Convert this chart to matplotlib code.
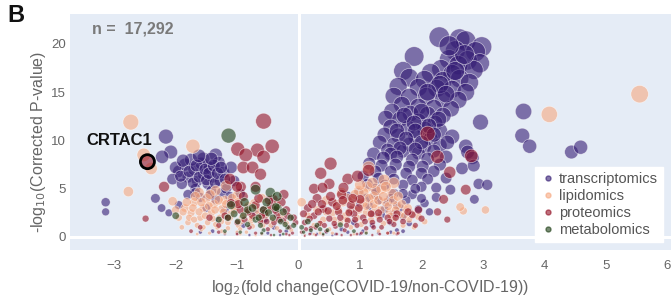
import matplotlib
matplotlib.use('Agg')
import numpy as np
import matplotlib.pyplot as plt
from matplotlib.lines import Line2D

# points: (log2 fold change, -log10 corrected p)
transcriptomics = [
    (2.29, 20.7), (2.62, 20.5), (2.72, 20.3), (2.98, 19.7), (2.88, 19.2), (2.55, 19.3), (1.88, 18.7),
    (2.45, 18.4), (2.75, 18.3), (2.95, 18.0), (2.60, 17.8), (2.32, 17.4), (2.85, 17.3), (1.70, 17.2),
    (2.15, 17.0), (2.50, 16.9), (1.80, 16.5), (2.05, 16.3), (2.35, 16.2), (2.62, 16.4), (2.78, 16.0),
    (1.62, 15.6), (1.95, 15.5), (2.25, 15.4), (2.50, 15.3), (2.72, 15.0), (1.55, 14.6), (1.80, 14.5),
    (2.08, 14.6), (2.35, 14.3), (2.60, 14.2), (1.68, 13.7), (1.95, 13.5), (2.20, 13.4), (2.48, 13.3),
    (1.52, 13.0), (1.82, 12.8), (2.10, 12.7), (2.35, 12.6), (1.42, 12.3), (1.65, 12.2), (1.95, 12.0),
    (2.22, 11.8), (1.50, 11.4), (1.78, 11.3), (2.05, 11.2), (2.30, 11.0), (2.50, 10.4), (2.96, 11.9),
    (1.40, 10.6), (1.62, 10.5), (1.90, 10.4), (2.15, 10.2), (1.32, 9.8), (1.55, 9.6), (1.80, 9.6),
    (2.05, 9.4), (2.30, 9.5), (2.72, 9.4), (1.45, 9.0), (1.70, 8.9), (1.95, 8.7), (2.20, 8.9),
    (1.72, 12.6), (2.00, 13.0), (2.28, 12.2), (1.88, 11.8), (2.12, 11.5), (1.60, 11.0), (1.90, 11.0),
    (2.20, 10.6), (1.75, 10.2), (2.00, 9.8), (1.65, 9.2), (1.90, 9.1), (2.42, 9.8), (1.50, 8.6),
    (2.30, 15.8), (2.10, 15.0), (2.40, 14.8), (2.55, 17.2), (2.70, 18.9), (2.45, 19.8),
    (1.22, 8.6), (1.38, 8.2), (1.60, 8.3), (1.85, 8.0), (2.10, 8.1), (2.40, 8.3), (2.75, 8.8),
    (2.83, 8.2), (1.15, 7.6), (1.35, 7.4), (1.58, 7.5), (1.80, 7.3), (2.02, 7.3), (2.30, 7.5),
    (2.66, 7.1), (2.85, 7.4), (1.25, 6.8), (1.50, 6.8), (1.75, 6.6), (2.00, 6.6), (2.20, 6.8),
    (1.05, 6.3), (1.30, 6.1), (1.55, 6.0), (1.85, 5.9), (2.10, 6.0), (2.40, 6.1), (1.12, 5.5),
    (1.40, 5.4), (1.70, 5.4), (2.00, 5.2), (2.24, 5.1), (2.47, 4.9), (2.93, 5.5), (3.07, 5.4),
    (0.98, 4.6), (1.25, 4.4), (1.55, 4.5), (1.85, 4.4), (2.24, 4.1), (2.86, 3.9), (1.45, 3.6),
    (1.75, 3.8), (2.05, 3.5), (1.15, 3.2), (1.65, 3.0), (1.95, 2.9), (2.13, 2.6),
    (1.10, 4.0), (1.30, 3.8), (1.50, 4.0), (1.70, 4.5), (1.90, 5.0), (1.60, 3.3), (1.40, 2.9),
    (1.20, 2.4), (1.80, 2.6), (2.00, 4.0), (1.00, 3.5), (0.85, 2.8), (1.55, 2.4), (0.80, 4.2),
    (1.25, 5.0), (1.35, 2.3), (1.70, 2.1), (1.50, 1.5), (1.20, 1.2), (0.90, 1.5), (1.80, 1.4),
    (0.70, 0.8), (1.05, 0.6), (1.60, 0.7),
    (3.66, 13.0), (3.64, 10.5), (3.76, 9.4), (4.44, 8.8), (4.59, 9.3),
    (-2.16, 10.4), (-2.08, 8.8), (-2.22, 8.3), (-1.95, 6.8), (-1.85, 7.5), (-1.80, 6.2), (-1.70, 7.0),
    (-1.65, 5.8), (-1.58, 7.6), (-1.55, 6.5), (-1.48, 5.5), (-1.45, 7.2), (-1.40, 6.2), (-1.35, 8.5),
    (-1.30, 7.7), (-1.28, 5.8), (-1.22, 6.7), (-1.15, 5.3), (-1.10, 7.2), (-1.55, 8.1), (-1.75, 8.0),
    (-2.05, 6.0), (-1.90, 5.5), (-1.68, 5.0), (-1.42, 4.8), (-1.25, 4.6), (-1.05, 5.8), (-0.95, 4.5),
    (-2.00, 7.2), (-1.92, 6.3), (-1.88, 7.9), (-1.78, 6.8), (-1.72, 5.6), (-1.66, 7.4), (-1.62, 6.2),
    (-1.52, 7.0), (-1.50, 5.9), (-1.46, 6.6), (-1.38, 7.4), (-1.36, 5.6), (-1.32, 6.6), (-1.26, 7.2),
    (-1.20, 6.0), (-1.18, 5.0), (-1.42, 8.1), (-1.62, 8.4), (-1.45, 4.3), (-1.12, 4.2), (-1.68, 4.6),
    (-1.80, 4.4), (-1.60, 4.1), (-1.35, 3.9), (-1.05, 3.4), (-0.85, 3.0), (-0.70, 2.4), (-0.55, 1.8),
    (-1.20, 2.8), (-1.50, 3.0), (-0.40, 1.0), (-0.20, 0.6), (-0.90, 1.2), (-1.30, 1.8),
    (-3.14, 3.6), (-3.14, 2.6), (-2.33, 4.0), (-2.23, 3.0), (-2.11, 2.5), (-1.95, 3.3),
    (-1.00, 0.4), (-0.60, 0.3), (-0.30, 0.2), (0.30, 0.3), (0.55, 0.2), (0.20, 0.4), (0.45, 0.5),
    (-1.20, 0.3), (-0.80, 0.2), (-0.50, 0.4), (0.10, 0.2), (0.60, 0.3), (0.80, 0.5), (1.00, 0.3),
    (1.30, 0.4), (1.50, 0.5), (-1.40, 0.6), (-1.60, 0.5), (1.70, 0.6),
]

lipidomics = [
    (-2.73, 11.9), (-2.77, 4.7), (-2.52, 8.5), (-2.40, 7.1), (-1.72, 9.4), (-2.05, 3.7),
    (4.08, 12.7), (5.55, 14.8), (3.04, 2.8), (2.68, 2.7), (2.63, 3.1),
    (-1.95, 2.0), (-1.85, 3.0), (-1.80, 1.5), (-1.75, 2.5), (-1.70, 3.6), (-1.65, 1.2), (-1.60, 2.0),
    (-1.55, 3.0), (-1.50, 4.0), (-1.48, 1.5), (-1.42, 2.5), (-1.38, 3.4), (-1.32, 1.0), (-1.28, 2.0),
    (-1.25, 2.9), (-1.20, 3.8), (-1.15, 1.5), (-1.10, 2.4), (-1.05, 3.2), (-1.00, 4.3), (-0.98, 1.2),
    (-0.92, 2.0), (-0.85, 2.8), (-0.78, 1.6), (-0.72, 3.5), (-0.65, 2.2), (-0.58, 1.2), (-0.50, 2.8),
    (-0.42, 1.8), (-0.35, 0.9), (-0.28, 2.3), (-0.20, 1.4), (-0.12, 0.7), (-1.62, 4.6), (-1.90, 1.0),
    (-1.58, 0.8), (-1.25, 0.6), (-0.85, 0.5), (-2.00, 2.8), (-1.35, 4.8), (-1.18, 5.3), (-0.60, 4.0),
    (-0.35, 3.3),
    (-1.88, 2.6), (-1.82, 3.6), (-1.78, 2.0), (-1.72, 3.0), (-1.68, 4.2), (-1.62, 2.6), (-1.58, 3.6),
    (-1.52, 2.2), (-1.46, 3.2), (-1.44, 4.4), (-1.40, 1.9), (-1.36, 2.8), (-1.30, 3.8), (-1.26, 1.6),
    (-1.22, 2.6), (-1.18, 3.4), (-1.12, 2.0), (-1.08, 4.0), (-1.04, 2.8), (-0.98, 3.6), (-0.94, 1.6),
    (-0.88, 2.4), (-0.82, 3.2), (-0.76, 2.0), (-0.68, 2.8), (-0.62, 1.8), (-0.54, 2.2), (-1.70, 1.8),
    (-1.55, 1.0), (-1.35, 1.3), (-1.15, 0.9), (-0.95, 0.8), (-0.75, 1.1), (-0.45, 1.2),
    (0.05, 3.6), (0.15, 2.2), (0.25, 1.2), (0.30, 2.8), (0.40, 1.8), (0.50, 0.8), (0.55, 2.5),
    (0.62, 3.4), (0.68, 1.5), (0.75, 2.2), (0.80, 4.0), (0.85, 1.0), (0.88, 3.0), (0.95, 2.0),
    (0.98, 4.8), (1.02, 1.3), (1.05, 3.5), (1.10, 2.5), (1.12, 5.2), (1.18, 1.8), (1.22, 4.2),
    (1.25, 3.0), (1.30, 2.2), (1.35, 5.0), (1.38, 1.4), (1.42, 3.6), (1.48, 2.6), (1.52, 4.5),
    (1.55, 1.8), (1.60, 3.2), (1.65, 2.3), (1.70, 1.2), (1.75, 2.8), (1.80, 1.8), (1.88, 1.0),
    (1.95, 2.1), (2.05, 1.6), (0.45, 3.8), (0.70, 4.6), (1.14, 7.2), (1.39, 5.9), (1.55, 5.6),
    (0.65, 2.8), (0.72, 3.6), (0.78, 1.8), (0.82, 2.6), (0.88, 3.8), (0.92, 4.4), (0.98, 2.8),
    (1.02, 3.8), (1.06, 4.6), (1.10, 3.2), (1.15, 4.0), (1.18, 2.4), (1.22, 3.4), (1.26, 4.8),
    (1.30, 3.8), (1.34, 2.8), (1.38, 4.2), (1.42, 5.2), (1.46, 3.2), (1.50, 2.2), (1.54, 3.8),
    (1.58, 2.8), (1.62, 4.2), (1.68, 3.4), (1.72, 2.2), (1.78, 3.0), (1.84, 2.4), (0.58, 1.8),
    (0.45, 2.6), (0.35, 1.4), (1.20, 5.6), (1.00, 5.4),
    (-1.45, 0.4), (-0.95, 0.3), (0.35, 0.4), (0.90, 0.3), (1.45, 0.4), (-0.70, 0.2), (0.10, 0.2),
    (-1.20, 0.4), (-0.60, 0.3), (0.25, 0.3), (0.55, 0.4), (1.10, 0.5), (1.30, 0.6), (1.55, 0.4),
    (-1.65, 0.3), (-1.00, 0.5),
]

proteomics = [
    (-0.57, 12.0), (-0.43, 9.4), (-0.99, 9.1), (-0.67, 9.0), (-0.57, 8.3), (-0.86, 8.5),
    (-2.19, 5.2), (-2.49, 1.9), (-2.46, 7.8),
    (-0.90, 7.2), (-0.75, 7.2), (-0.62, 6.5), (-0.70, 5.2), (-0.94, 5.2), (-0.24, 4.4), (-0.41, 3.9),
    (-0.57, 2.8), (-1.12, 6.0), (-1.00, 5.2),
    (-1.20, 2.2), (-1.10, 3.5), (-1.00, 1.5), (-0.95, 2.8), (-0.90, 4.2), (-0.80, 1.0), (-0.75, 2.2),
    (-0.70, 3.3), (-0.62, 1.6), (-0.55, 2.5), (-0.50, 0.8), (-0.45, 3.2), (-0.40, 1.5), (-0.35, 2.3),
    (-0.30, 0.6), (-0.25, 1.7), (-0.20, 2.8), (-0.15, 1.0), (-0.10, 0.4), (-0.05, 1.5), (-1.30, 1.2),
    (-1.45, 2.0), (-1.60, 1.0), (-1.75, 0.6),
    (-1.15, 2.0), (-0.98, 3.4), (-0.88, 1.8), (-0.82, 2.6), (-0.65, 4.0),
    (-0.60, 2.2), (-0.52, 1.6), (-0.48, 3.8), (-0.38, 2.8), (-0.32, 1.8), (-0.28, 3.6), (-0.18, 2.2),
    (-0.08, 2.0),
    (0.05, 0.5), (0.10, 1.5), (0.15, 3.0), (0.20, 0.9), (0.25, 2.2), (0.30, 4.0), (0.35, 1.4),
    (0.40, 2.9), (0.45, 0.6), (0.50, 1.9), (0.55, 3.6), (0.60, 1.1), (0.65, 2.6), (0.70, 4.4),
    (0.75, 0.7), (0.80, 1.7), (0.85, 3.3), (0.90, 2.4), (0.95, 1.2), (1.00, 3.9), (1.05, 2.0),
    (1.10, 0.9), (1.20, 1.5), (1.30, 2.5), (1.35, 1.0),
    (1.45, 2.0), (1.55, 1.3), (1.60, 2.4), (1.70, 1.6), (1.85, 2.3),
    (1.90, 1.2), (2.00, 1.9), (2.26, 2.6), (2.42, 1.8),
    (0.08, 2.4), (0.12, 0.8), (0.18, 1.9), (0.22, 3.4), (0.28, 1.0), (0.32, 2.6), (0.38, 3.4),
    (0.42, 1.2), (0.48, 2.7), (0.52, 4.2), (0.58, 1.4), (0.62, 3.2), (0.68, 2.0), (0.72, 3.8),
    (0.78, 1.2), (0.82, 2.5), (0.88, 4.0), (0.92, 1.8), (0.98, 3.0), (1.08, 1.6),
    (1.18, 2.4), (1.22, 1.0), (1.32, 1.8),
    (1.48, 1.6), (1.58, 2.0), (1.78, 2.6), (1.95, 2.8),
    (0.50, 5.5), (0.25, 5.0), (0.80, 6.0),
    (0.36, 6.6), (0.39, 5.1), (0.52, 7.6), (0.96, 6.3), (0.73, 5.1), (2.10, 10.7), (2.26, 8.3),
    (2.81, 8.4), (2.72, 4.9), (2.46, 6.7), (2.36, 3.9), (1.14, 6.9),
    (-1.00, 0.3), (-0.70, 0.4), (-0.45, 0.2), (-0.20, 0.3), (0.10, 0.1), (0.40, 0.2), (0.70, 0.2),
    (0.95, 0.3), (1.20, 0.2), (1.45, 0.4), (1.60, 0.3), (-1.30, 0.5), (0.18, 0.3), (0.62, 0.3),
    (1.02, 0.4), (1.32, 0.3), (-0.15, 0.2), (0.85, 0.2), (1.62, 0.4), (0.28, 0.2),
]

metabolomics = [
    (-1.14, 10.5), (-2.00, 2.2), (-0.70, 4.9), (-0.46, 4.6), (-0.83, 2.8), (-0.57, 2.8), (-0.34, 3.0),
    (-1.10, 3.3), (-1.30, 1.8), (-0.99, 1.6), (-0.13, 2.0), (-0.37, 3.1), (-0.49, 2.5), (-0.70, 1.8),
    (-0.83, 1.3), (-0.29, 1.6), (-0.18, 1.0), (-0.57, 0.7), (0.20, 0.7), (0.08, 0.5), (0.47, 0.7),
    (0.68, 1.25), (0.30, 1.2), (0.90, 0.6), (-0.95, 0.5), (-0.60, 0.4), (-0.25, 0.3), (0.40, 0.3),
    (-1.20, 0.6), (-0.40, 0.2), (1.10, 0.4),
    (-1.05, 2.4), (-0.90, 2.2), (-0.75, 3.0), (-0.65, 2.0), (-0.52, 3.6), (-0.42, 2.0), (-0.25, 2.6),
    (-0.22, 1.3), (-0.08, 1.2), (0.05, 1.0), (0.15, 1.6), (0.35, 0.8), (-0.62, 1.2), (-0.88, 3.6),
    (-0.35, 4.2), (-1.15, 2.0),
]

series = [('transcriptomics', transcriptomics, '#341C74'),
          ('lipidomics', lipidomics, '#F7A880'),
          ('proteomics', proteomics, '#941226'),
          ('metabolomics', metabolomics, '#1E3F16')]

highlight_name = 'CRTAC1'
highlight_xy = (-2.46, 7.8)


def marker_area(y):
    # marker diameter grows with significance
    d_px = 1.0 + 4.3 * np.sqrt(np.clip(np.asarray(y, dtype=float), 0.02, None))
    return (0.72 * d_px) ** 2


plt.rcParams['font.family'] = ['Liberation Sans', 'DejaVu Sans']
narrow = ['Liberation Sans Narrow', 'Liberation Sans', 'DejaVu Sans']

fig = plt.figure(figsize=(6.71, 2.97), dpi=100)
ax = fig.add_axes([70 / 671, 47 / 297, 601 / 671, 236 / 297])
ax.set_facecolor('#E5ECF6')
for s in ax.spines.values():
    s.set_visible(False)

ax.axhline(0, color='white', lw=2.2, zorder=1)
ax.axvline(0, color='white', lw=2.2, zorder=1)

for i, (name, pts, col) in enumerate(series):
    xs = [p[0] for p in pts]
    ys = [p[1] for p in pts]
    ax.scatter(xs, ys, s=marker_area(ys), c=col, alpha=0.6,
               edgecolors='white', linewidths=0.5, zorder=2 + i)

ax.scatter([highlight_xy[0]], [highlight_xy[1]], s=(0.72 * 14) ** 2,
           facecolors='none', edgecolors='black', linewidths=2, zorder=10)
ax.text(highlight_xy[0] + 0.07, highlight_xy[1] + 2.15, highlight_name,
        ha='right', va='center', fontsize=12, fontweight='bold',
        family=narrow, color='#111111', zorder=11)

ax.text(0.037, 0.935, 'n =  17,292', transform=ax.transAxes, ha='left',
        va='center', fontsize=11.5, fontweight='bold', family=narrow,
        color='#7a7a7a')

ax.set_xlim(-3.72, 6.06)
ax.set_ylim(-1.35, 23.1)
ax.set_xticks(range(-3, 7))
ax.set_yticks([0, 5, 10, 15, 20])
ax.tick_params(length=0, labelsize=9.5, labelcolor='#666666', pad=3)
ax.tick_params(axis='x', pad=7)

ax.set_xlabel('log$_2$(fold change(COVID-19/non-COVID-19))', fontsize=11.5,
              color='#666666')
ax.xaxis.set_label_coords(0.5, -0.118)
ax.set_ylabel('-log$_{10}$(Corrected P-value)', fontsize=11.5, color='#666666')
ax.yaxis.set_label_coords(-0.037, 0.46)

handles = [Line2D([], [], ls='none', marker='o', ms=3.6, color=col, alpha=0.6,
                  label=name) for name, _, col in series]
leg = ax.legend(handles=handles, loc='lower left', bbox_to_anchor=(0.774, 0.034),
                frameon=True, fontsize=10.5, handletextpad=0.3, handlelength=1.0,
                labelspacing=0.2, borderpad=0.35, borderaxespad=0, fancybox=False)
leg.get_frame().set_facecolor('white')
leg.get_frame().set_edgecolor('white')
leg.get_frame().set_alpha(1)
for t in leg.get_texts():
    t.set_color('#555555')
leg.set_zorder(20)

fig.text(7 / 671, 1 - 15 / 297, 'B', fontsize=17, fontweight='bold',
         ha='left', va='center', color='#111111')

fig.savefig('out.png', dpi=100)
